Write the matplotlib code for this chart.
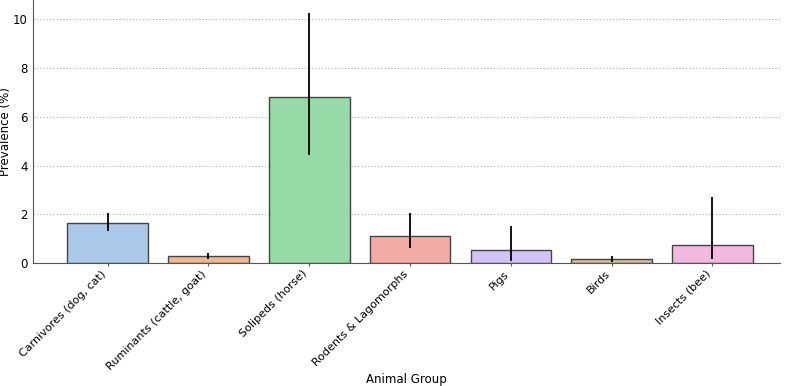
import matplotlib
matplotlib.use("Agg")
import matplotlib.pyplot as plt
import seaborn as sns
import numpy as np

groups = ["Carnivores (dog, cat)", "Ruminants (cattle, goat)", "Solipeds (horse)",
          "Rodents & Lagomorphs", "Pigs", "Birds", "Insects (bee)"]
prevalence = [1.65, 0.28, 6.8, 1.12, 0.52, 0.17, 0.75]
ci_low = [1.3, 0.15, 4.45, 0.6, 0.1, 0.05, 0.15]
ci_high = [2.05, 0.4, 10.25, 2.05, 1.5, 0.3, 2.7]

# seaborn barplot style: pastel palette desaturated a bit
colors = [sns.desaturate(c, 0.75) for c in sns.color_palette("pastel", len(groups))]

yerr = np.array([[p - lo for p, lo in zip(prevalence, ci_low)],
                 [hi - p for p, hi in zip(prevalence, ci_high)]])

fig = plt.figure(figsize=(7.89, 3.86), dpi=100)
ax = fig.add_axes([33 / 789, 1 - 263 / 386, (780 - 33) / 789, 263 / 386])

x = np.arange(len(groups))
ax.bar(x, prevalence, width=0.8, color=colors, edgecolor="#444444", linewidth=1.0, zorder=2)
ax.errorbar(x, prevalence, yerr=yerr, fmt="none", ecolor="black", elinewidth=1.3, capsize=0, zorder=3)

ax.set_xlim(-0.74, 6.67)
ax.set_ylim(0, 10.8)
ax.set_yticks([0, 2, 4, 6, 8, 10])
ax.set_xticks(x)
ax.set_xticklabels(groups, rotation=45, ha="right", fontsize=8)
ax.tick_params(axis="y", labelsize=8.5, length=0, pad=4)
ax.tick_params(axis="x", length=2, pad=2, color="#555555")
ax.yaxis.grid(True, linestyle=":", color="#bbbbbb", linewidth=0.9, zorder=0)
ax.set_axisbelow(True)
for s in ["top", "right"]:
    ax.spines[s].set_visible(False)
for s in ["left", "bottom"]:
    ax.spines[s].set_color("#555555")
ax.set_xlabel("Animal Group", fontsize=8.5)
ax.set_ylabel("Prevalence (%)", fontsize=8.5)
ax.xaxis.set_label_coords(0.5, -(379 - 263) / 263)
ax.yaxis.set_label_coords(-(33 - 6) / 747, 0.5)
ax.xaxis.label.set_va("center")
ax.yaxis.label.set_va("center")

fig.savefig("out.png", dpi=100)
